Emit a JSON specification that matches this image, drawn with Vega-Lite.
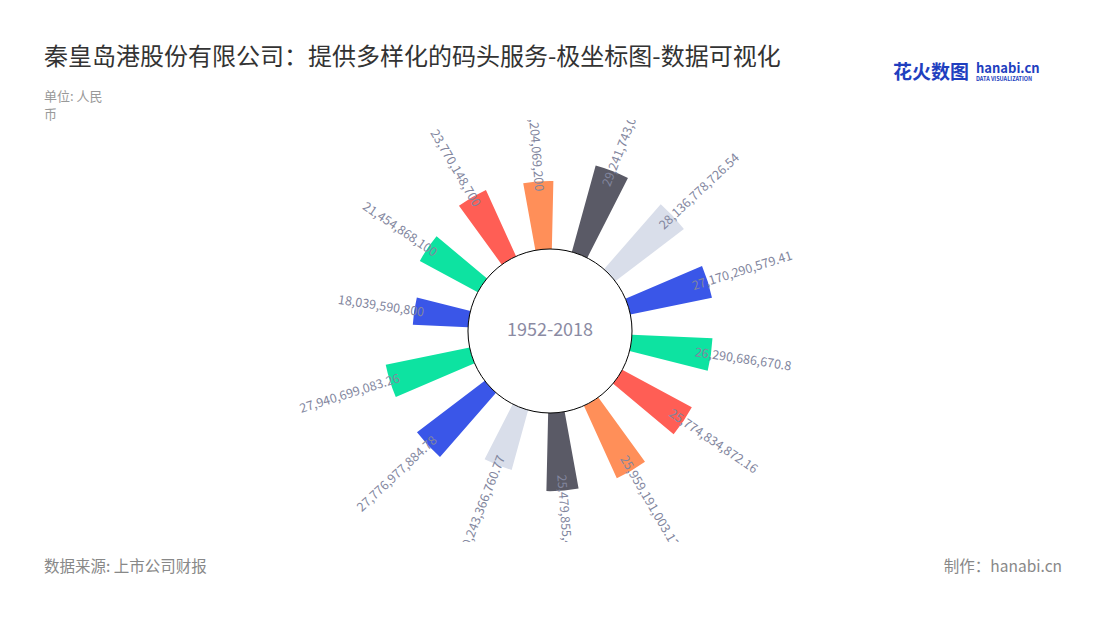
{
  "$schema": "https://vega.github.io/schema/vega-lite/v6.json",
  "width": 1100,
  "height": 422,
  "autosize": {"type": "none"},
  "padding": {"left": 0, "right": 0, "top": 120, "bottom": 78},
  "background": "white",
  "config": {"view": {"stroke": null}, "font": "Noto Sans CJK SC"},
  "title": {
    "text": "秦皇岛港股份有限公司：提供多样化的码头服务-极坐标图-数据可视化",
    "subtitle": ["单位: 人民", "币"],
    "anchor": "start",
    "frame": "group",
    "dx": 44,
    "dy": 61,
    "offset": 2,
    "font": "Noto Sans CJK SC",
    "fontSize": 24,
    "fontWeight": "normal",
    "color": "#333333",
    "subtitleFont": "Noto Sans CJK SC",
    "subtitleFontSize": 13,
    "subtitleColor": "#999999",
    "subtitlePadding": 21,
    "subtitleLineHeight": 18
  },
  "datasets": {
    "bars": [
      {"k": "s01", "v": 22204069200},
      {"k": "s02", "v": 29241743000},
      {"k": "s03", "v": 28136778726.54},
      {"k": "s04", "v": 27170290579.41},
      {"k": "s05", "v": 26290686670.8},
      {"k": "s06", "v": 25774834872.16},
      {"k": "s07", "v": 25959191003.13},
      {"k": "s08", "v": 25479855440},
      {"k": "s09", "v": 20243366760.77},
      {"k": "s10", "v": 27776977884.78},
      {"k": "s11", "v": 27940699083.26},
      {"k": "s12", "v": 18039590800},
      {"k": "s13", "v": 21454868100},
      {"k": "s14", "v": 23770148700}
    ]
  },
  "layer": [
    {
      "data": {"name": "bars"},
      "mark": {"type": "arc"},
      "encoding": {
        "theta": {
          "field": "k",
          "type": "nominal",
          "scale": {
            "type": "band",
            "domain": ["s01","s02","s03","s04","s05","s06","s07","s08","s09","s10","s11","s12","s13","s14"],
            "range": [-0.3029, 5.9803],
            "paddingInner": 0.55,
            "paddingOuter": 0.275
          }
        },
        "radius": {
          "field": "v",
          "type": "quantitative",
          "scale": {"type": "linear", "domain": [0, 30000000000], "range": [82, 174], "zero": true, "nice": false}
        },
        "color": {
          "field": "k",
          "type": "nominal",
          "legend": null,
          "scale": {
            "domain": ["s01","s02","s03","s04","s05","s06","s07","s08","s09","s10","s11","s12","s13","s14"],
            "range": ["#FF8F59","#5A5A66","#D9DEEA","#3A56E8","#0DE3A1","#FF5E55","#FF8F59","#5A5A66","#D9DEEA","#3A56E8","#0DE3A1","#3A56E8","#0DE3A1","#FF5E55"]
          }
        }
      }
    },
    {
      "data": {"values": [{"c": "center"}]},
      "mark": {"type": "arc", "theta": 0, "theta2": 6.2832, "radius": 82, "fill": "white", "stroke": "#000000", "strokeWidth": 1},
      "encoding": {}
    },
    {
      "data": {"name": "bars"},
      "transform": [{"filter": {"field": "k", "oneOf": ["s02","s03","s04","s05","s06","s07","s08"]}}],
      "mark": {
        "type": "text",
        "align": "left",
        "baseline": "middle",
        "radiusOffset": -16,
        "clip": true,
        "fontSize": 12.5,
        "color": "#82869e",
        "angle": {"expr": "(scale('theta', datum.k) + bandwidth('theta')/2)*180/PI - 90"}
      },
      "encoding": {
        "theta": {"field": "k", "type": "nominal", "bandPosition": 0.5},
        "radius": {"field": "v", "type": "quantitative"},
        "text": {"field": "v", "type": "quantitative", "format": ",.2~f"}
      }
    },
    {
      "data": {"name": "bars"},
      "transform": [{"filter": {"field": "k", "oneOf": ["s01","s09","s10","s11","s12","s13","s14"]}}],
      "mark": {
        "type": "text",
        "align": "right",
        "baseline": "middle",
        "radiusOffset": -10,
        "clip": true,
        "fontSize": 12.5,
        "color": "#82869e",
        "angle": {"expr": "(scale('theta', datum.k) + bandwidth('theta')/2)*180/PI + 90"}
      },
      "encoding": {
        "theta": {"field": "k", "type": "nominal", "bandPosition": 0.5},
        "radius": {"field": "v", "type": "quantitative"},
        "text": {"field": "v", "type": "quantitative", "format": ",.2~f"}
      }
    },
    {
      "data": {"values": [{"t": "1952-2018"}]},
      "mark": {"type": "text", "fontSize": 18, "color": "#8b8ba3", "align": "center", "baseline": "middle"},
      "encoding": {"text": {"field": "t"}}
    },
    {
      "data": {"values": [{"t": "数据来源: 上市公司财报"}]},
      "mark": {"type": "text", "x": 44, "y": 447, "align": "left", "baseline": "middle", "fontSize": 15.5, "color": "#888888"},
      "encoding": {"text": {"field": "t"}}
    },
    {
      "data": {"values": [{"t": "制作：hanabi.cn"}]},
      "mark": {"type": "text", "x": 1062, "y": 447, "align": "right", "baseline": "middle", "fontSize": 15.5, "color": "#888888"},
      "encoding": {"text": {"field": "t"}}
    },
    {
      "data": {"values": [{"t": "花火数图"}]},
      "mark": {"type": "text", "x": 893, "y": -47, "align": "left", "baseline": "middle", "fontSize": 19, "fontWeight": "bold", "color": "#1f3fbf"},
      "encoding": {"text": {"field": "t"}}
    },
    {
      "data": {"values": [{"t": "hanabi.cn"}]},
      "mark": {"type": "text", "x": 976, "y": -51, "align": "left", "baseline": "middle", "fontSize": 13, "fontWeight": "bold", "color": "#1f3fbf"},
      "encoding": {"text": {"field": "t"}}
    },
    {
      "data": {"values": [{"t": "DATA VISUALIZATION"}]},
      "mark": {"type": "text", "x": 976, "y": -41, "align": "left", "baseline": "middle", "fontSize": 5.5, "fontWeight": "bold", "color": "#1f3fbf"},
      "encoding": {"text": {"field": "t"}}
    }
  ]
}
